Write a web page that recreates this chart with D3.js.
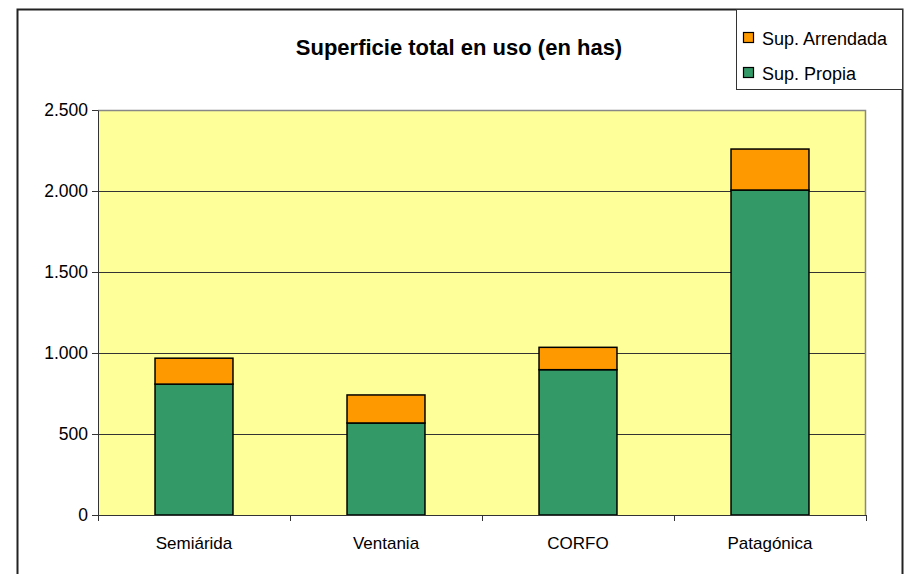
<!DOCTYPE html>
<html>
<head>
<meta charset="utf-8">
<script src="https://cdn.jsdelivr.net/npm/d3@7"></script>
<style>
    body { margin: 0; background: #fff; }
    svg { display: block; font-family: "Liberation Sans", Arial, sans-serif; }
</style>
</head>
<body>
<div id="chart"></div>
<script>
// Chart data
const regions = ["Semiárida", "Ventania", "CORFO", "Patagónica"];
const supPropia = [808, 568, 897, 2006];
const supArrendada = [160, 173, 138, 253];
const yTicks = [0, 500, 1000, 1500, 2000, 2500];
const seriesNames = ["Sup. Propia", "Sup. Arrendada"];
const seriesColors = ["#339966", "#FF9900"];

const W = 905, H = 574;
const margin = { top: 110, right: 39, bottom: 59, left: 98 };
const width = W - margin.left - margin.right;
const height = H - margin.top - margin.bottom;

const svg = d3.select("#chart").append("svg")
    .attr("width", W)
    .attr("height", H);

// outer frame
svg.append("rect")
    .attr("x", 17.5).attr("y", 9.5)
    .attr("width", 885).attr("height", 570)
    .attr("fill", "#fff")
    .attr("stroke", "#222").attr("stroke-width", 2);

// title
svg.append("text")
    .attr("x", 459).attr("y", 55)
    .attr("text-anchor", "middle")
    .attr("font-size", "22px")
    .attr("font-weight", "bold")
    .text("Superficie total en uso (en has)");

const g = svg.append("g")
    .attr("transform", `translate(${margin.left},${margin.top})`);

// scales
const x = d3.scaleBand()
    .domain(regions)
    .range([0, width])
    .paddingInner(0.594)
    .paddingOuter(0.297);

const y = d3.scaleLinear()
    .domain([0, 2500])
    .range([height, 0]);

// plot background
g.append("rect")
    .attr("width", width).attr("height", height)
    .attr("fill", "#FFFF99");

// gridlines
g.selectAll(".grid")
    .data(yTicks.filter(d => d > 0 && d < 2500))
    .enter().append("line")
    .attr("class", "grid")
    .attr("x1", 0).attr("x2", width)
    .attr("y1", d => Math.round(y(d)) + 0.5)
    .attr("y2", d => Math.round(y(d)) + 0.5)
    .attr("stroke", "#333").attr("stroke-width", 1);

// plot border top/right
g.append("path")
    .attr("d", `M0,0.5H${width - 0.5}V${height}`)
    .attr("fill", "none")
    .attr("stroke", "#888").attr("stroke-width", 1.5);

// stack data
const stackData = regions.map((r, i) => ({ region: r, propia: supPropia[i], arrendada: supArrendada[i] }));
const series = d3.stack().keys(["propia", "arrendada"])(stackData);

g.selectAll(".series")
    .data(series)
    .enter().append("g")
    .attr("class", "series")
    .attr("fill", (d, i) => seriesColors[i])
    .selectAll("rect")
    .data(d => d)
    .enter().append("rect")
    .attr("x", d => x(d.data.region))
    .attr("y", d => y(d[1]))
    .attr("width", x.bandwidth())
    .attr("height", d => y(d[0]) - y(d[1]))
    .attr("stroke", "#000")
    .attr("stroke-width", 1.5);

// y axis
const yAxis = g.append("g")
    .call(d3.axisLeft(y).tickValues(yTicks).tickSize(6).tickSizeOuter(0)
        .tickFormat(d => d3.format(",")(d).replace(/,/g, ".")));
yAxis.selectAll("text").attr("font-size", "17.5px").attr("fill", "#000").attr("dx", "-1");
yAxis.selectAll("line, path").attr("stroke", "#333");

// x axis with ticks at band boundaries
const xAxis = g.append("g")
    .attr("transform", `translate(0,${height})`)
    .call(d3.axisBottom(x).tickSize(0).tickSizeOuter(0));
xAxis.select(".domain").attr("stroke", "#333");
xAxis.selectAll("text").attr("font-size", "17px").attr("fill", "#000").attr("dy", "1.8em");
const step = x.step();
xAxis.selectAll(".bound")
    .data(d3.range(regions.length + 1))
    .enter().append("line")
    .attr("class", "bound")
    .attr("x1", i => Math.round(i * step) + 0.5)
    .attr("x2", i => Math.round(i * step) + 0.5)
    .attr("y1", 0).attr("y2", 6)
    .attr("stroke", "#333");

// legend
const legend = svg.append("g").attr("transform", "translate(736,9)");
legend.append("rect")
    .attr("x", 0.5).attr("y", 0.5)
    .attr("width", 166).attr("height", 80)
    .attr("fill", "#fff").attr("stroke", "#333");
const legendItems = [
    { name: seriesNames[1], color: seriesColors[1] },
    { name: seriesNames[0], color: seriesColors[0] }
];
const li = legend.selectAll(".li")
    .data(legendItems)
    .enter().append("g")
    .attr("transform", (d, i) => `translate(7,${29 + i * 35})`);
li.append("rect")
    .attr("x", 0.5).attr("y", -5.5)
    .attr("width", 10).attr("height", 10)
    .attr("fill", d => d.color)
    .attr("stroke", "#000").attr("stroke-width", 1.2);
li.append("text")
    .attr("x", 19).attr("y", 6.5)
    .attr("font-size", "18px")
    .text(d => d.name);
</script>
</body>
</html>
